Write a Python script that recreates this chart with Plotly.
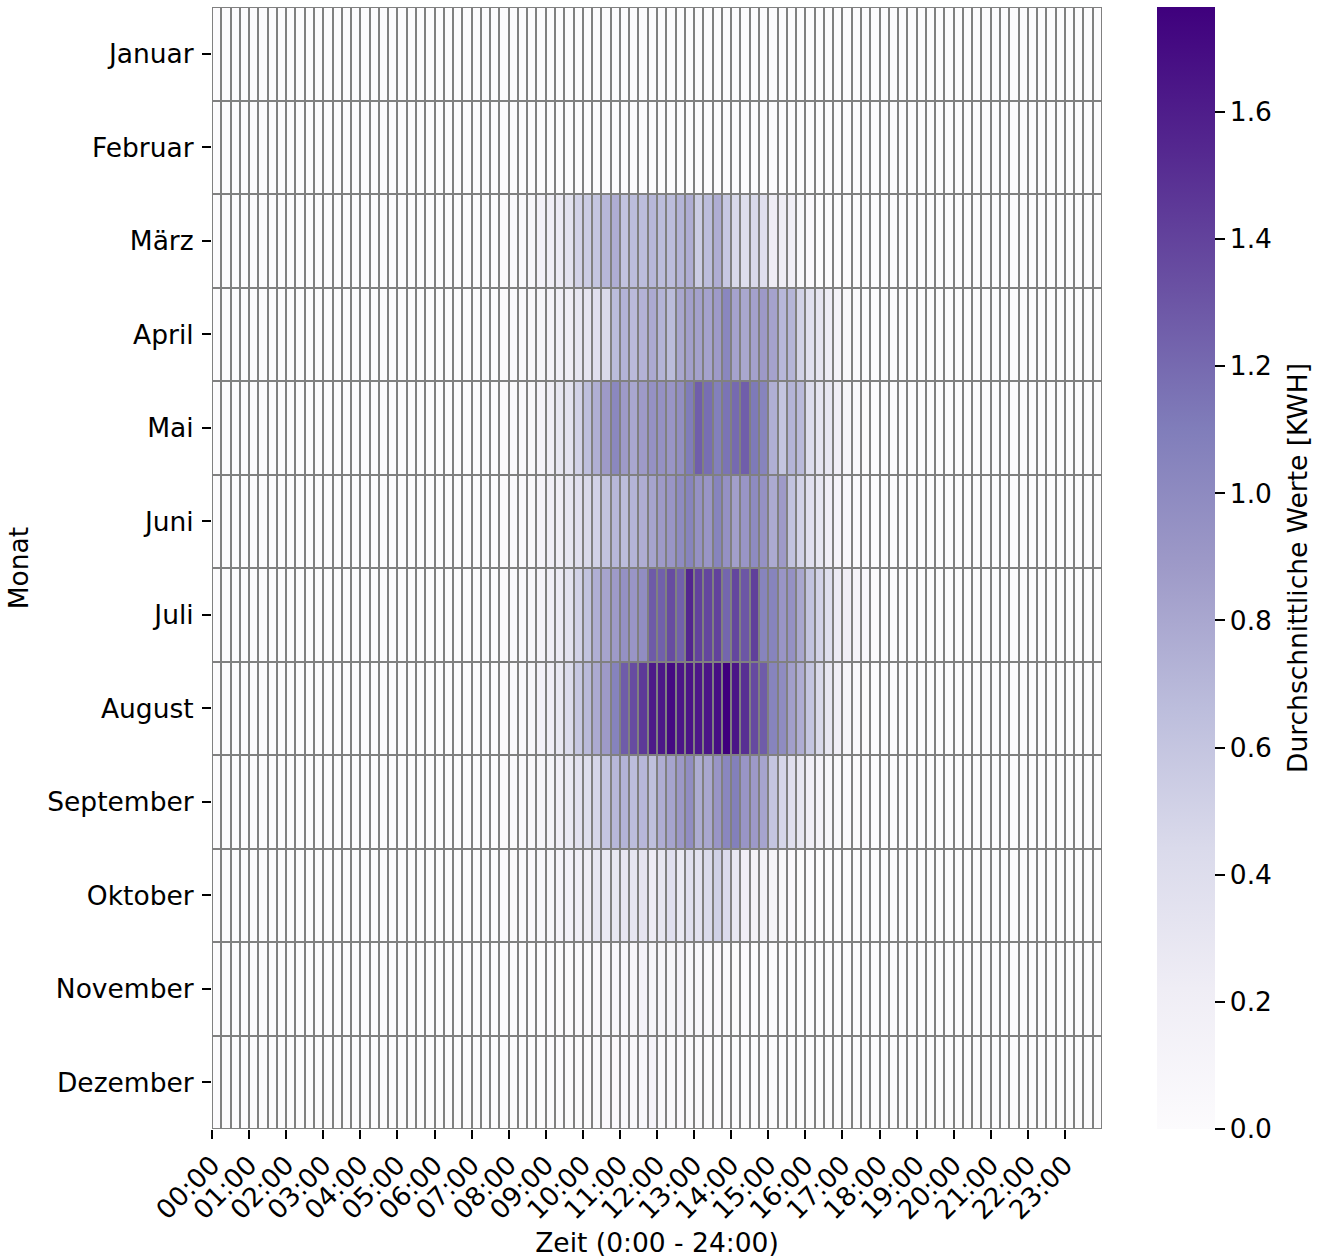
import plotly.graph_objects as go

# Month rows (top to bottom) and 15-minute time slots across the day
months = ["Januar", "Februar", "März", "April", "Mai", "Juni", "Juli",
          "August", "September", "Oktober", "November", "Dezember"]

# slot edges in hours: 96 quarter-hour bins from 0:00 to 24:00
slot_edges = [i / 4 for i in range(97)]

hour_ticks = list(range(24))
hour_labels = ["00:00", "01:00", "02:00", "03:00", "04:00", "05:00",
               "06:00", "07:00", "08:00", "09:00", "10:00", "11:00",
               "12:00", "13:00", "14:00", "15:00", "16:00", "17:00",
               "18:00", "19:00", "20:00", "21:00", "22:00", "23:00"]

colorbar_ticks = [0.0, 0.2, 0.4, 0.6, 0.8, 1.0, 1.2, 1.4, 1.6]

# Average energy per quarter hour [kWh].
# Each line holds 6 hours (24 quarter-hour slots): 0-6 h, 6-12 h, 12-18 h, 18-24 h
januar = [0] * 24 + [0] * 24 + [0] * 24 + [0] * 24
februar = [0] * 24 + [0] * 24 + [0] * 24 + [0] * 24
maerz = (
    [0] * 24
    + [0, 0, 0, 0, 0, 0, 0, 0.02, 0.03, 0.05, 0.08, 0.15,
       0.2, 0.25, 0.35, 0.5, 0.55, 0.6, 0.7, 0.76, 0.62, 0.66, 0.66, 0.7]
    + [0.66, 0.66, 0.72, 0.76, 0.55, 0.66, 0.76, 0.58, 0.45, 0.4, 0.45, 0.38,
       0.22, 0.22, 0.2, 0.08, 0.04, 0, 0, 0, 0, 0, 0, 0]
    + [0] * 24
)
april = (
    [0] * 24
    + [0, 0, 0, 0, 0, 0, 0, 0.02, 0.03, 0.05, 0.07, 0.1,
       0.14, 0.2, 0.22, 0.3, 0.33, 0.38, 0.44, 0.67, 0.72, 0.68, 0.73, 0.78]
    + [0.72, 0.67, 0.8, 0.85, 0.84, 0.83, 0.88, 1.03, 0.83, 0.8, 0.84, 0.89,
       0.83, 0.7, 0.71, 0.5, 0.38, 0.32, 0.23, 0.14, 0.07, 0.03, 0, 0]
    + [0] * 24
)
mai = (
    [0] * 24
    + [0, 0, 0, 0, 0, 0, 0, 0.02, 0.03, 0.05, 0.07, 0.12,
       0.2, 0.3, 0.35, 0.5, 0.65, 0.75, 0.88, 1.02, 0.88, 0.8, 0.88, 0.95]
    + [0.95, 0.92, 0.97, 1.1, 1.26, 1.18, 1.08, 1.15, 1.2, 1.26, 1.12, 1.05,
       0.75, 0.6, 0.72, 0.68, 0.42, 0.33, 0.3, 0.2, 0.1, 0.05, 0.02, 0]
    + [0] * 24
)
juni = (
    [0] * 24
    + [0, 0, 0, 0, 0, 0, 0, 0.02, 0.03, 0.05, 0.07, 0.12,
       0.2, 0.22, 0.3, 0.38, 0.45, 0.5, 0.62, 0.7, 0.66, 0.72, 0.76, 0.82]
    + [0.88, 0.92, 1.0, 1.05, 0.95, 0.92, 1.05, 0.95, 0.85, 0.92, 1.0, 0.95,
       0.78, 0.88, 0.62, 0.5, 0.38, 0.3, 0.2, 0.12, 0.06, 0.03, 0.01, 0]
    + [0] * 24
)
juli = (
    [0] * 24
    + [0, 0, 0, 0, 0, 0, 0, 0.02, 0.03, 0.05, 0.08, 0.12,
       0.2, 0.25, 0.35, 0.5, 0.62, 0.75, 0.82, 0.88, 0.95, 0.92, 0.98, 1.28]
    + [1.25, 1.35, 1.25, 1.55, 1.4, 1.38, 1.4, 1.22, 1.38, 1.3, 1.42, 1.05,
       1.05, 0.92, 0.95, 0.8, 0.62, 0.5, 0.4, 0.25, 0.2, 0.12, 0.06, 0.02]
    + [0] * 24
)
august = (
    [0] * 24
    + [0, 0, 0, 0, 0, 0, 0, 0.02, 0.03, 0.05, 0.08, 0.15,
       0.2, 0.28, 0.42, 0.58, 0.68, 0.78, 0.88, 1.06, 1.27, 1.35, 1.45, 1.62]
    + [1.63, 1.7, 1.64, 1.65, 1.63, 1.64, 1.68, 1.765, 1.64, 1.5, 1.36, 1.27,
       1.05, 0.99, 0.85, 0.76, 0.6, 0.45, 0.3, 0.2, 0.1, 0.05, 0.02, 0]
    + [0] * 24
)
september = (
    [0] * 24
    + [0, 0, 0, 0, 0, 0, 0, 0.02, 0.03, 0.05, 0.07, 0.1,
       0.13, 0.2, 0.27, 0.36, 0.4, 0.47, 0.6, 0.7, 0.72, 0.66, 0.7, 0.64]
    + [0.76, 0.82, 0.9, 0.98, 0.77, 0.8, 0.92, 1.03, 1.08, 0.92, 0.89, 0.82,
       0.6, 0.47, 0.38, 0.3, 0.2, 0.14, 0.08, 0.05, 0.03, 0.02, 0.01, 0]
    + [0] * 24
)
oktober = (
    [0] * 24
    + [0, 0, 0, 0, 0, 0, 0, 0.01, 0.02, 0.03, 0.04, 0.06,
       0.08, 0.12, 0.15, 0.2, 0.22, 0.3, 0.26, 0.29, 0.32, 0.31, 0.32, 0.23]
    + [0.3, 0.38, 0.28, 0.38, 0.36, 0.44, 0.52, 0.43, 0.3, 0.2, 0.16, 0.13,
       0.1, 0.07, 0.04, 0.02, 0.01, 0, 0, 0, 0, 0, 0, 0]
    + [0] * 24
)
november = (
    [0] * 24
    + [0, 0, 0, 0, 0, 0, 0, 0, 0, 0, 0, 0,
       0.01, 0.02, 0.02, 0.03, 0.03, 0.04, 0.05, 0.06, 0.06, 0.08, 0.12, 0.1]
    + [0.1, 0.1, 0.14, 0.08, 0.06, 0.05, 0.04, 0.03, 0.02, 0.01, 0, 0,
       0, 0, 0, 0, 0, 0, 0, 0, 0, 0, 0, 0]
    + [0] * 24
)
dezember = (
    [0] * 24
    + [0, 0, 0, 0, 0, 0, 0, 0, 0, 0, 0, 0,
       0.01, 0.01, 0.02, 0.02, 0.02, 0.03, 0.04, 0.04, 0.05, 0.05, 0.06, 0.12]
    + [0.05, 0.05, 0.04, 0.03, 0.03, 0.02, 0.01, 0, 0, 0, 0, 0,
       0, 0, 0, 0, 0, 0, 0, 0, 0, 0, 0, 0]
    + [0] * 24
)

values = [januar, februar, maerz, april, mai, juni, juli,
          august, september, oktober, november, dezember]

# ColorBrewer "Purples"
purples = [
    [0.000, "rgb(252,251,253)"],
    [0.125, "rgb(239,237,245)"],
    [0.250, "rgb(218,218,235)"],
    [0.375, "rgb(188,189,220)"],
    [0.500, "rgb(158,154,200)"],
    [0.625, "rgb(128,125,186)"],
    [0.750, "rgb(106,81,163)"],
    [0.875, "rgb(84,39,143)"],
    [1.000, "rgb(63,0,125)"],
]

FONT = "DejaVu Sans"
FS = 26.5
TXT = dict(family=FONT, size=FS, color="black")

fig = go.Figure(
    go.Heatmap(
        z=values,
        x=slot_edges,
        y=months,
        colorscale=purples,
        zmin=0,
        xgap=2,
        ygap=2,
        colorbar=dict(
            thickness=58,
            thicknessmode="pixels",
            len=1,
            lenmode="fraction",
            x=1.0618,
            xanchor="left",
            xpad=0,
            y=0.5,
            yanchor="middle",
            ypad=0,
            outlinewidth=0,
            ticks="outside",
            ticklen=10,
            tickwidth=1.5,
            tickcolor="black",
            tickvals=colorbar_ticks,
            tickformat=".1f",
            tickfont=TXT,
        ),
        hovertemplate="%{y} %{x:.2f} h: %{z:.2f} kWh<extra></extra>",
    )
)

# colour bar caption, vertical on the far right
fig.add_annotation(
    text="Durchschnittliche Werte [KWH]",
    xref="paper", yref="paper",
    x=1.2191, y=0.5,
    xanchor="center", yanchor="middle",
    textangle=-90,
    showarrow=False,
    font=TXT,
)

fig.update_layout(
    width=1319,
    height=1258,
    margin=dict(l=212, r=217, t=7, b=129, autoexpand=False),
    paper_bgcolor="white",
    plot_bgcolor="gray",
    font=TXT,
    xaxis=dict(
        range=[0, 24],
        tickmode="array",
        tickvals=hour_ticks,
        ticktext=hour_labels,
        tickangle=-45,
        ticks="outside",
        ticklen=9,
        tickwidth=1.5,
        tickcolor="black",
        showgrid=False,
        zeroline=False,
        showline=False,
        tickfont=TXT,
        title=dict(text="Zeit (0:00 - 24:00)", standoff=12, font=TXT),
    ),
    yaxis=dict(
        autorange="reversed",
        ticks="outside",
        ticklen=9,
        tickwidth=1.5,
        tickcolor="black",
        ticklabelstandoff=3,
        showgrid=False,
        zeroline=False,
        showline=False,
        tickfont=TXT,
        title=dict(text="Monat", standoff=10, font=TXT),
    ),
)

fig.write_html("out.html")
